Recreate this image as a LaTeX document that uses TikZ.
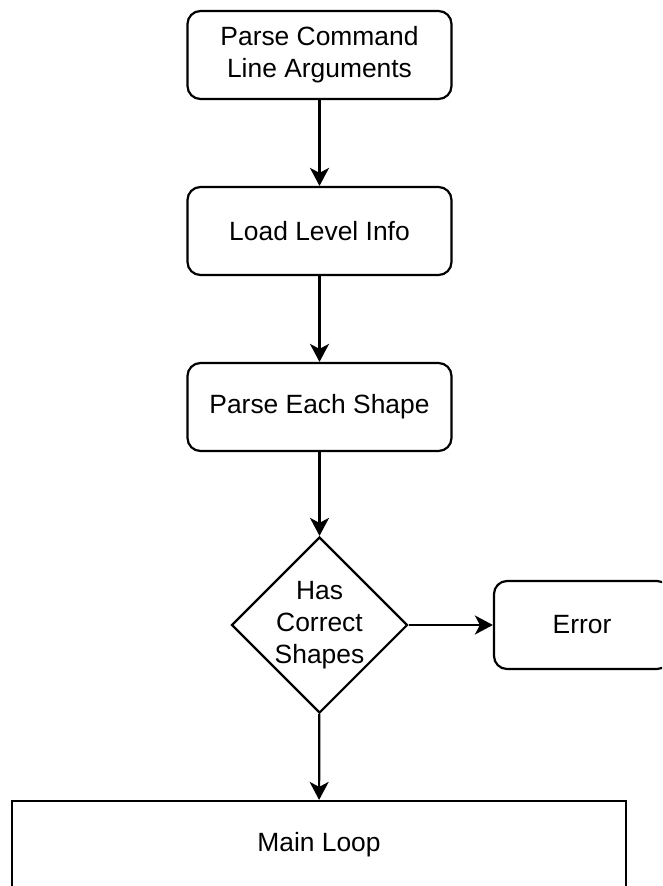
\documentclass[tikz,border=0pt]{standalone}
\usepackage{fontspec}
\setmainfont{Liberation Sans}
\usetikzlibrary{arrows.meta,shapes.geometric}

\begin{document}
\begin{tikzpicture}[x=1pt,y=-1pt,
  every node/.style={font=\fontsize{26.4}{31.7}\selectfont, align=center, inner sep=0pt},
  stepbox/.style={draw, line width=2.2pt, rounded corners=13pt,
    minimum width=264pt, minimum height=88pt},
  decision/.style={draw, line width=2.2pt, diamond, aspect=1,
    minimum width=176pt, minimum height=176pt},
  errbox/.style={draw, line width=2.2pt, rounded corners=13pt,
    minimum width=176pt, minimum height=88pt},
  loopbox/.style={draw, line width=2.2pt,
    minimum width=614pt, minimum height=88pt},
  flow/.style={line width=2.2pt, -{Stealth[length=18pt, width=19pt, inset=5pt]}}
]
  \useasboundingbox (0,0) rectangle (662,886);
  \clip (0,0) rectangle (662,886);
  \fill[white] (0,0) rectangle (662,886);

  % processing steps
  \node[stepbox] (args)  at (319.5,55)  {Parse Command\\Line Arguments};
  \node[stepbox] (level) at (319.5,231) {Load Level Info};
  \node[stepbox] (shape) at (319.5,407) {Parse Each Shape};

  % shape check and its outcomes
  \node[decision] (check) at (319.5,625) {};
  \node at (check.center) {Has\\Correct\\Shapes};
  \node[errbox]  (err)  at (582,625) {Error};
  \node[loopbox] (loop) at (319,845) {Main Loop};

  % connectors
  \draw[flow] (args)  -- (level);
  \draw[flow] (level) -- (shape);
  \draw[flow] (shape) -- (check);
  \draw[flow] (check) -- (err);
  \draw[flow] (check) -- (loop);
\end{tikzpicture}
\end{document}
